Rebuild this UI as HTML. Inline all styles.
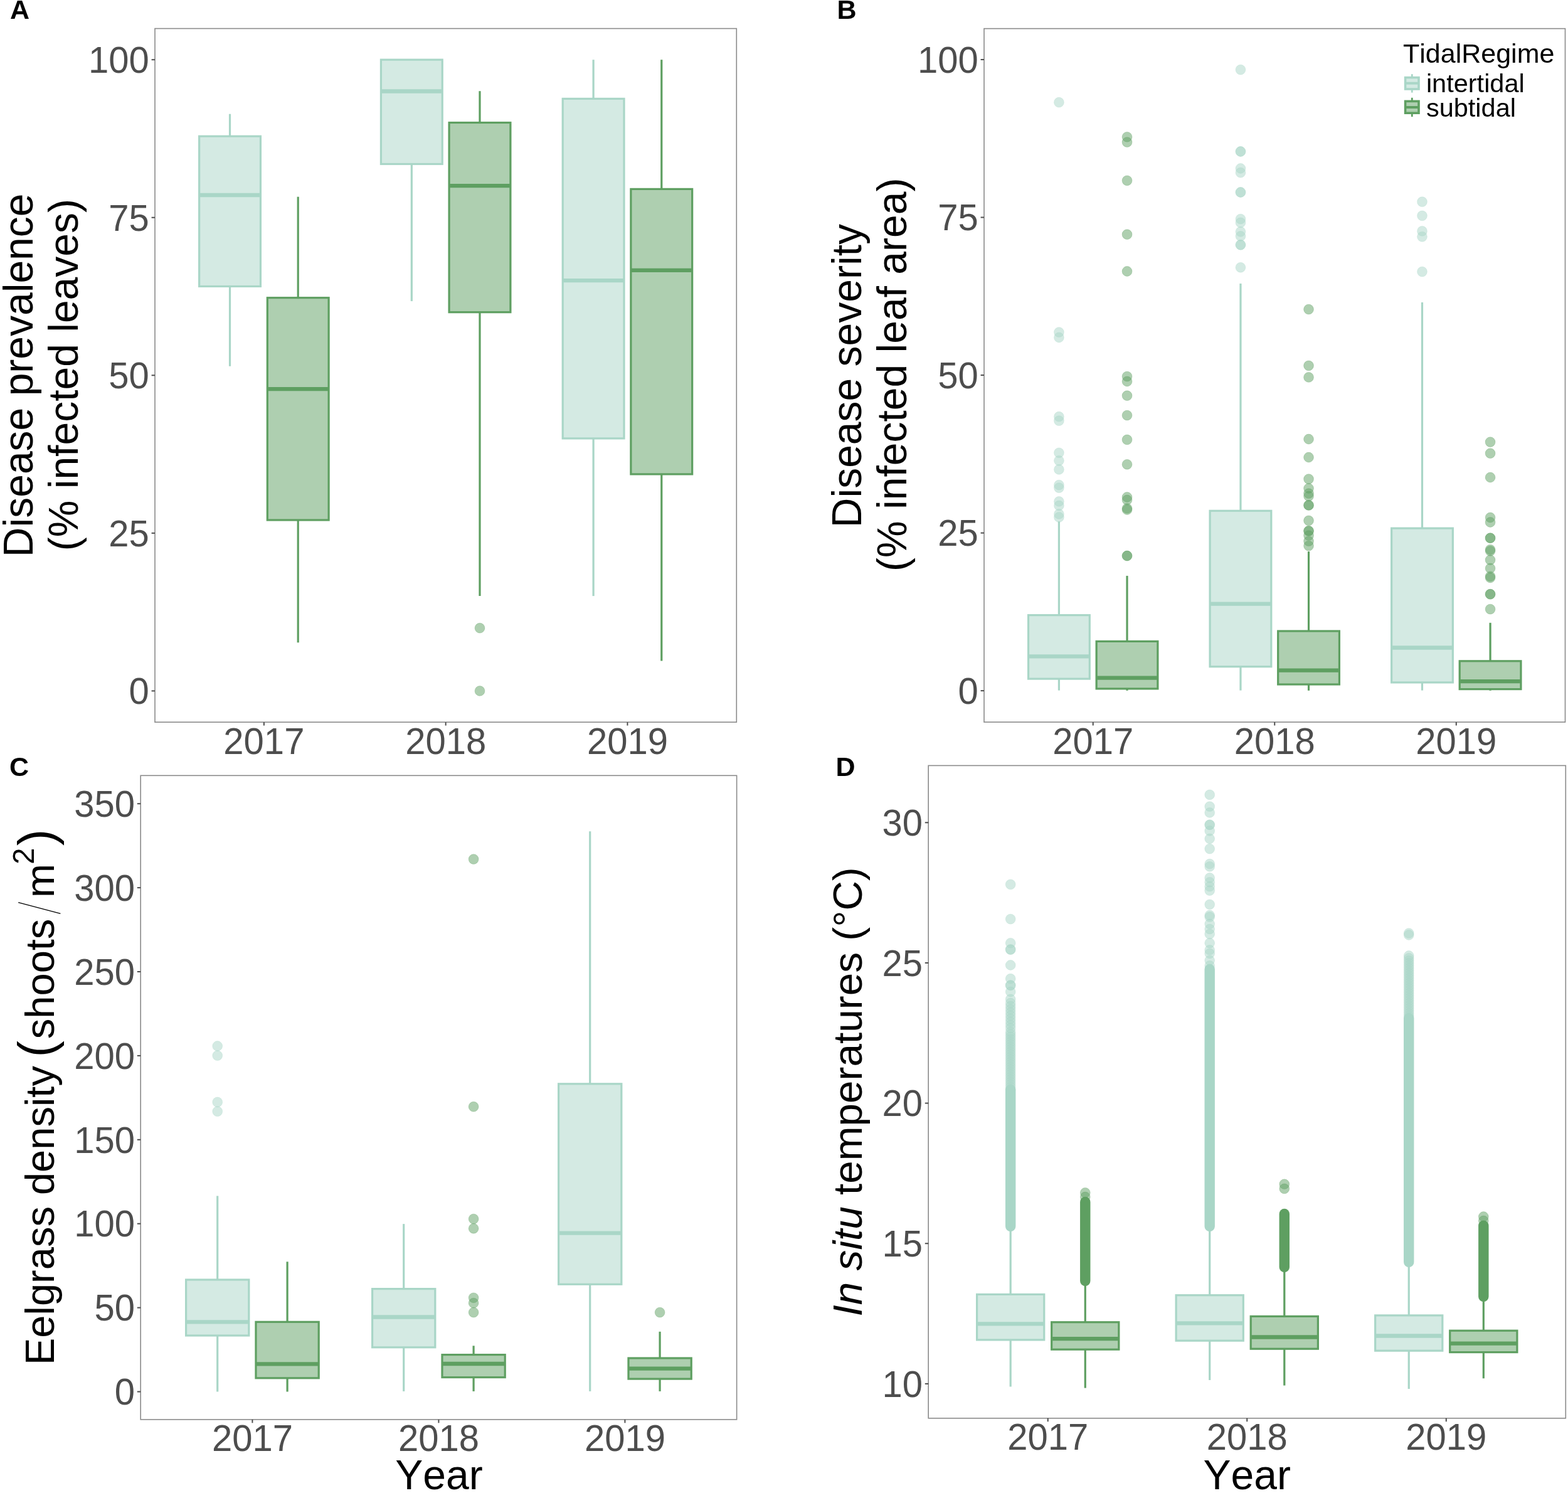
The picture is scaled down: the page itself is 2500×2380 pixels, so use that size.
<!DOCTYPE html>
<html><head><meta charset="utf-8"><title>Figure</title><style>html,body{margin:0;padding:0;background:#fff;}svg{display:block;}text{font-kerning:none;font-variant-ligatures:none;}</style></head><body>
<svg width="2500" height="2380" viewBox="0 0 2500 2380" font-family="&quot;Liberation Sans&quot;, sans-serif">
<rect width="2500" height="2380" fill="#fff"/>
<line x1="366.53" y1="181.7" x2="366.53" y2="217.2" stroke="#a9d6c7" stroke-width="3.2"/>
<line x1="366.53" y1="456.5" x2="366.53" y2="583.8" stroke="#a9d6c7" stroke-width="3.2"/>
<rect x="317.63" y="217.2" width="97.8" height="239.3" fill="#d4eae3" stroke="#a9d6c7" stroke-width="3.2"/>
<line x1="317.63" y1="311" x2="415.44" y2="311" stroke="#a9d6c7" stroke-width="6.3"/>
<line x1="475.2" y1="313.7" x2="475.2" y2="474.7" stroke="#5e9f61" stroke-width="3.2"/>
<line x1="475.2" y1="829" x2="475.2" y2="1024.3" stroke="#5e9f61" stroke-width="3.2"/>
<rect x="426.3" y="474.7" width="97.8" height="354.3" fill="#aecfb0" stroke="#5e9f61" stroke-width="3.2"/>
<line x1="426.3" y1="620.1" x2="524.1" y2="620.1" stroke="#5e9f61" stroke-width="6.3"/>
<line x1="656.32" y1="261.5" x2="656.32" y2="480.1" stroke="#a9d6c7" stroke-width="3.2"/>
<rect x="607.42" y="95.2" width="97.8" height="166.3" fill="#d4eae3" stroke="#a9d6c7" stroke-width="3.2"/>
<line x1="607.42" y1="145.5" x2="705.22" y2="145.5" stroke="#a9d6c7" stroke-width="6.3"/>
<line x1="764.98" y1="145.2" x2="764.98" y2="195.5" stroke="#5e9f61" stroke-width="3.2"/>
<line x1="764.98" y1="497.7" x2="764.98" y2="950.1" stroke="#5e9f61" stroke-width="3.2"/>
<rect x="716.08" y="195.5" width="97.8" height="302.2" fill="#aecfb0" stroke="#5e9f61" stroke-width="3.2"/>
<line x1="716.08" y1="296.2" x2="813.88" y2="296.2" stroke="#5e9f61" stroke-width="6.3"/>
<circle cx="764.98" cy="1001.2" r="7.9" fill="#5e9f61" fill-opacity="0.5" stroke="#5e9f61" stroke-opacity="0.5" stroke-width="0.6"/>
<circle cx="764.98" cy="1101.4" r="7.9" fill="#5e9f61" fill-opacity="0.5" stroke="#5e9f61" stroke-opacity="0.5" stroke-width="0.6"/>
<line x1="946.1" y1="95.2" x2="946.1" y2="157.4" stroke="#a9d6c7" stroke-width="3.2"/>
<line x1="946.1" y1="698.9" x2="946.1" y2="950.1" stroke="#a9d6c7" stroke-width="3.2"/>
<rect x="897.2" y="157.4" width="97.8" height="541.5" fill="#d4eae3" stroke="#a9d6c7" stroke-width="3.2"/>
<line x1="897.2" y1="447.2" x2="995" y2="447.2" stroke="#a9d6c7" stroke-width="6.3"/>
<line x1="1054.77" y1="95.2" x2="1054.77" y2="301.4" stroke="#5e9f61" stroke-width="3.2"/>
<line x1="1054.77" y1="755.9" x2="1054.77" y2="1053.6" stroke="#5e9f61" stroke-width="3.2"/>
<rect x="1005.86" y="301.4" width="97.8" height="454.5" fill="#aecfb0" stroke="#5e9f61" stroke-width="3.2"/>
<line x1="1005.86" y1="430.8" x2="1103.67" y2="430.8" stroke="#5e9f61" stroke-width="6.3"/>
<rect x="247" y="45.5" width="927.3" height="1105.7" fill="none" stroke="#8a8a8a" stroke-width="1.6"/>
<line x1="241.6" y1="1101.4" x2="247" y2="1101.4" stroke="#4d4d4d" stroke-width="2.0"/>
<text transform="translate(237.7,1122.17) scale(1,1.026)" font-size="58" fill="#4d4d4d" text-anchor="end">0</text>
<line x1="241.6" y1="849.85" x2="247" y2="849.85" stroke="#4d4d4d" stroke-width="2.0"/>
<text transform="translate(237.7,870.62) scale(1,1.026)" font-size="58" fill="#4d4d4d" text-anchor="end">25</text>
<line x1="241.6" y1="598.3" x2="247" y2="598.3" stroke="#4d4d4d" stroke-width="2.0"/>
<text transform="translate(237.7,619.07) scale(1,1.026)" font-size="58" fill="#4d4d4d" text-anchor="end">50</text>
<line x1="241.6" y1="346.75" x2="247" y2="346.75" stroke="#4d4d4d" stroke-width="2.0"/>
<text transform="translate(237.7,367.52) scale(1,1.026)" font-size="58" fill="#4d4d4d" text-anchor="end">75</text>
<line x1="241.6" y1="95.2" x2="247" y2="95.2" stroke="#4d4d4d" stroke-width="2.0"/>
<text transform="translate(237.7,115.97) scale(1,1.026)" font-size="58" fill="#4d4d4d" text-anchor="end">100</text>
<line x1="420.87" y1="1151.2" x2="420.87" y2="1156.6" stroke="#4d4d4d" stroke-width="2.0"/>
<text transform="translate(420.87,1201.5) scale(1,1.026)" font-size="58" fill="#4d4d4d" text-anchor="middle">2017</text>
<line x1="710.65" y1="1151.2" x2="710.65" y2="1156.6" stroke="#4d4d4d" stroke-width="2.0"/>
<text transform="translate(710.65,1201.5) scale(1,1.026)" font-size="58" fill="#4d4d4d" text-anchor="middle">2018</text>
<line x1="1000.43" y1="1151.2" x2="1000.43" y2="1156.6" stroke="#4d4d4d" stroke-width="2.0"/>
<text transform="translate(1000.43,1201.5) scale(1,1.026)" font-size="58" fill="#4d4d4d" text-anchor="middle">2019</text>
<line x1="1688.43" y1="831.3" x2="1688.43" y2="980.6" stroke="#a9d6c7" stroke-width="3.2"/>
<line x1="1688.43" y1="1082.1" x2="1688.43" y2="1100.6" stroke="#a9d6c7" stroke-width="3.2"/>
<rect x="1639.57" y="980.6" width="97.72" height="101.5" fill="#d4eae3" stroke="#a9d6c7" stroke-width="3.2"/>
<line x1="1639.57" y1="1046.3" x2="1737.29" y2="1046.3" stroke="#a9d6c7" stroke-width="6.3"/>
<circle cx="1688.43" cy="163.2" r="7.9" fill="#a9d6c7" fill-opacity="0.5" stroke="#a9d6c7" stroke-opacity="0.5" stroke-width="0.6"/>
<circle cx="1688.43" cy="529.6" r="7.9" fill="#a9d6c7" fill-opacity="0.5" stroke="#a9d6c7" stroke-opacity="0.5" stroke-width="0.6"/>
<circle cx="1688.43" cy="538" r="7.9" fill="#a9d6c7" fill-opacity="0.5" stroke="#a9d6c7" stroke-opacity="0.5" stroke-width="0.6"/>
<circle cx="1688.43" cy="664.2" r="7.9" fill="#a9d6c7" fill-opacity="0.5" stroke="#a9d6c7" stroke-opacity="0.5" stroke-width="0.6"/>
<circle cx="1688.43" cy="670.7" r="7.9" fill="#a9d6c7" fill-opacity="0.5" stroke="#a9d6c7" stroke-opacity="0.5" stroke-width="0.6"/>
<circle cx="1688.43" cy="721.8" r="7.9" fill="#a9d6c7" fill-opacity="0.5" stroke="#a9d6c7" stroke-opacity="0.5" stroke-width="0.6"/>
<circle cx="1688.43" cy="734.3" r="7.9" fill="#a9d6c7" fill-opacity="0.5" stroke="#a9d6c7" stroke-opacity="0.5" stroke-width="0.6"/>
<circle cx="1688.43" cy="748.4" r="7.9" fill="#a9d6c7" fill-opacity="0.5" stroke="#a9d6c7" stroke-opacity="0.5" stroke-width="0.6"/>
<circle cx="1688.43" cy="773.1" r="7.9" fill="#a9d6c7" fill-opacity="0.5" stroke="#a9d6c7" stroke-opacity="0.5" stroke-width="0.6"/>
<circle cx="1688.43" cy="777.6" r="7.9" fill="#a9d6c7" fill-opacity="0.5" stroke="#a9d6c7" stroke-opacity="0.5" stroke-width="0.6"/>
<circle cx="1688.43" cy="799.4" r="7.9" fill="#a9d6c7" fill-opacity="0.5" stroke="#a9d6c7" stroke-opacity="0.5" stroke-width="0.6"/>
<circle cx="1688.43" cy="806" r="7.9" fill="#a9d6c7" fill-opacity="0.5" stroke="#a9d6c7" stroke-opacity="0.5" stroke-width="0.6"/>
<circle cx="1688.43" cy="819.4" r="7.9" fill="#a9d6c7" fill-opacity="0.5" stroke="#a9d6c7" stroke-opacity="0.5" stroke-width="0.6"/>
<circle cx="1688.43" cy="824.5" r="7.9" fill="#a9d6c7" fill-opacity="0.5" stroke="#a9d6c7" stroke-opacity="0.5" stroke-width="0.6"/>
<line x1="1797.01" y1="917.9" x2="1797.01" y2="1022.4" stroke="#5e9f61" stroke-width="3.2"/>
<line x1="1797.01" y1="1097.9" x2="1797.01" y2="1100.8" stroke="#5e9f61" stroke-width="3.2"/>
<rect x="1748.15" y="1022.4" width="97.72" height="75.5" fill="#aecfb0" stroke="#5e9f61" stroke-width="3.2"/>
<line x1="1748.15" y1="1080.6" x2="1845.86" y2="1080.6" stroke="#5e9f61" stroke-width="6.3"/>
<circle cx="1797.01" cy="218.3" r="7.9" fill="#5e9f61" fill-opacity="0.5" stroke="#5e9f61" stroke-opacity="0.5" stroke-width="0.6"/>
<circle cx="1797.01" cy="226.6" r="7.9" fill="#5e9f61" fill-opacity="0.5" stroke="#5e9f61" stroke-opacity="0.5" stroke-width="0.6"/>
<circle cx="1797.01" cy="287.8" r="7.9" fill="#5e9f61" fill-opacity="0.5" stroke="#5e9f61" stroke-opacity="0.5" stroke-width="0.6"/>
<circle cx="1797.01" cy="373.7" r="7.9" fill="#5e9f61" fill-opacity="0.5" stroke="#5e9f61" stroke-opacity="0.5" stroke-width="0.6"/>
<circle cx="1797.01" cy="432.5" r="7.9" fill="#5e9f61" fill-opacity="0.5" stroke="#5e9f61" stroke-opacity="0.5" stroke-width="0.6"/>
<circle cx="1797.01" cy="600.1" r="7.9" fill="#5e9f61" fill-opacity="0.5" stroke="#5e9f61" stroke-opacity="0.5" stroke-width="0.6"/>
<circle cx="1797.01" cy="608" r="7.9" fill="#5e9f61" fill-opacity="0.5" stroke="#5e9f61" stroke-opacity="0.5" stroke-width="0.6"/>
<circle cx="1797.01" cy="630.7" r="7.9" fill="#5e9f61" fill-opacity="0.5" stroke="#5e9f61" stroke-opacity="0.5" stroke-width="0.6"/>
<circle cx="1797.01" cy="662.1" r="7.9" fill="#5e9f61" fill-opacity="0.5" stroke="#5e9f61" stroke-opacity="0.5" stroke-width="0.6"/>
<circle cx="1797.01" cy="700.9" r="7.9" fill="#5e9f61" fill-opacity="0.5" stroke="#5e9f61" stroke-opacity="0.5" stroke-width="0.6"/>
<circle cx="1797.01" cy="740.3" r="7.9" fill="#5e9f61" fill-opacity="0.5" stroke="#5e9f61" stroke-opacity="0.5" stroke-width="0.6"/>
<circle cx="1797.01" cy="792.5" r="7.9" fill="#5e9f61" fill-opacity="0.5" stroke="#5e9f61" stroke-opacity="0.5" stroke-width="0.6"/>
<circle cx="1797.01" cy="797" r="7.9" fill="#5e9f61" fill-opacity="0.5" stroke="#5e9f61" stroke-opacity="0.5" stroke-width="0.6"/>
<circle cx="1797.01" cy="810.4" r="7.9" fill="#5e9f61" fill-opacity="0.5" stroke="#5e9f61" stroke-opacity="0.5" stroke-width="0.6"/>
<circle cx="1797.01" cy="812.5" r="7.9" fill="#5e9f61" fill-opacity="0.5" stroke="#5e9f61" stroke-opacity="0.5" stroke-width="0.6"/>
<circle cx="1797.01" cy="886" r="7.9" fill="#5e9f61" fill-opacity="0.5" stroke="#5e9f61" stroke-opacity="0.5" stroke-width="0.6"/>
<circle cx="1797.01" cy="886" r="7.9" fill="#5e9f61" fill-opacity="0.5" stroke="#5e9f61" stroke-opacity="0.5" stroke-width="0.6"/>
<line x1="1977.96" y1="451.9" x2="1977.96" y2="814.3" stroke="#a9d6c7" stroke-width="3.2"/>
<line x1="1977.96" y1="1062.7" x2="1977.96" y2="1100.6" stroke="#a9d6c7" stroke-width="3.2"/>
<rect x="1929.1" y="814.3" width="97.72" height="248.4" fill="#d4eae3" stroke="#a9d6c7" stroke-width="3.2"/>
<line x1="1929.1" y1="962.7" x2="2026.82" y2="962.7" stroke="#a9d6c7" stroke-width="6.3"/>
<circle cx="1977.96" cy="111.1" r="7.9" fill="#a9d6c7" fill-opacity="0.5" stroke="#a9d6c7" stroke-opacity="0.5" stroke-width="0.6"/>
<circle cx="1977.96" cy="241.5" r="7.9" fill="#a9d6c7" fill-opacity="0.5" stroke="#a9d6c7" stroke-opacity="0.5" stroke-width="0.6"/>
<circle cx="1977.96" cy="241.5" r="7.9" fill="#a9d6c7" fill-opacity="0.5" stroke="#a9d6c7" stroke-opacity="0.5" stroke-width="0.6"/>
<circle cx="1977.96" cy="268.5" r="7.9" fill="#a9d6c7" fill-opacity="0.5" stroke="#a9d6c7" stroke-opacity="0.5" stroke-width="0.6"/>
<circle cx="1977.96" cy="275.2" r="7.9" fill="#a9d6c7" fill-opacity="0.5" stroke="#a9d6c7" stroke-opacity="0.5" stroke-width="0.6"/>
<circle cx="1977.96" cy="306.5" r="7.9" fill="#a9d6c7" fill-opacity="0.5" stroke="#a9d6c7" stroke-opacity="0.5" stroke-width="0.6"/>
<circle cx="1977.96" cy="306.5" r="7.9" fill="#a9d6c7" fill-opacity="0.5" stroke="#a9d6c7" stroke-opacity="0.5" stroke-width="0.6"/>
<circle cx="1977.96" cy="349.1" r="7.9" fill="#a9d6c7" fill-opacity="0.5" stroke="#a9d6c7" stroke-opacity="0.5" stroke-width="0.6"/>
<circle cx="1977.96" cy="354.9" r="7.9" fill="#a9d6c7" fill-opacity="0.5" stroke="#a9d6c7" stroke-opacity="0.5" stroke-width="0.6"/>
<circle cx="1977.96" cy="369.3" r="7.9" fill="#a9d6c7" fill-opacity="0.5" stroke="#a9d6c7" stroke-opacity="0.5" stroke-width="0.6"/>
<circle cx="1977.96" cy="376.5" r="7.9" fill="#a9d6c7" fill-opacity="0.5" stroke="#a9d6c7" stroke-opacity="0.5" stroke-width="0.6"/>
<circle cx="1977.96" cy="390.3" r="7.9" fill="#a9d6c7" fill-opacity="0.5" stroke="#a9d6c7" stroke-opacity="0.5" stroke-width="0.6"/>
<circle cx="1977.96" cy="390.3" r="7.9" fill="#a9d6c7" fill-opacity="0.5" stroke="#a9d6c7" stroke-opacity="0.5" stroke-width="0.6"/>
<circle cx="1977.96" cy="426.3" r="7.9" fill="#a9d6c7" fill-opacity="0.5" stroke="#a9d6c7" stroke-opacity="0.5" stroke-width="0.6"/>
<line x1="2086.54" y1="879.1" x2="2086.54" y2="1006" stroke="#5e9f61" stroke-width="3.2"/>
<line x1="2086.54" y1="1091" x2="2086.54" y2="1100.8" stroke="#5e9f61" stroke-width="3.2"/>
<rect x="2037.68" y="1006" width="97.72" height="85" fill="#aecfb0" stroke="#5e9f61" stroke-width="3.2"/>
<line x1="2037.68" y1="1068.7" x2="2135.4" y2="1068.7" stroke="#5e9f61" stroke-width="6.3"/>
<circle cx="2086.54" cy="493.1" r="7.9" fill="#5e9f61" fill-opacity="0.5" stroke="#5e9f61" stroke-opacity="0.5" stroke-width="0.6"/>
<circle cx="2086.54" cy="582.9" r="7.9" fill="#5e9f61" fill-opacity="0.5" stroke="#5e9f61" stroke-opacity="0.5" stroke-width="0.6"/>
<circle cx="2086.54" cy="601.4" r="7.9" fill="#5e9f61" fill-opacity="0.5" stroke="#5e9f61" stroke-opacity="0.5" stroke-width="0.6"/>
<circle cx="2086.54" cy="700" r="7.9" fill="#5e9f61" fill-opacity="0.5" stroke="#5e9f61" stroke-opacity="0.5" stroke-width="0.6"/>
<circle cx="2086.54" cy="729" r="7.9" fill="#5e9f61" fill-opacity="0.5" stroke="#5e9f61" stroke-opacity="0.5" stroke-width="0.6"/>
<circle cx="2086.54" cy="763.6" r="7.9" fill="#5e9f61" fill-opacity="0.5" stroke="#5e9f61" stroke-opacity="0.5" stroke-width="0.6"/>
<circle cx="2086.54" cy="778.5" r="7.9" fill="#5e9f61" fill-opacity="0.5" stroke="#5e9f61" stroke-opacity="0.5" stroke-width="0.6"/>
<circle cx="2086.54" cy="786.6" r="7.9" fill="#5e9f61" fill-opacity="0.5" stroke="#5e9f61" stroke-opacity="0.5" stroke-width="0.6"/>
<circle cx="2086.54" cy="791" r="7.9" fill="#5e9f61" fill-opacity="0.5" stroke="#5e9f61" stroke-opacity="0.5" stroke-width="0.6"/>
<circle cx="2086.54" cy="805.4" r="7.9" fill="#5e9f61" fill-opacity="0.5" stroke="#5e9f61" stroke-opacity="0.5" stroke-width="0.6"/>
<circle cx="2086.54" cy="805.4" r="7.9" fill="#5e9f61" fill-opacity="0.5" stroke="#5e9f61" stroke-opacity="0.5" stroke-width="0.6"/>
<circle cx="2086.54" cy="829.9" r="7.9" fill="#5e9f61" fill-opacity="0.5" stroke="#5e9f61" stroke-opacity="0.5" stroke-width="0.6"/>
<circle cx="2086.54" cy="846.3" r="7.9" fill="#5e9f61" fill-opacity="0.5" stroke="#5e9f61" stroke-opacity="0.5" stroke-width="0.6"/>
<circle cx="2086.54" cy="846.3" r="7.9" fill="#5e9f61" fill-opacity="0.5" stroke="#5e9f61" stroke-opacity="0.5" stroke-width="0.6"/>
<circle cx="2086.54" cy="853.7" r="7.9" fill="#5e9f61" fill-opacity="0.5" stroke="#5e9f61" stroke-opacity="0.5" stroke-width="0.6"/>
<circle cx="2086.54" cy="862.7" r="7.9" fill="#5e9f61" fill-opacity="0.5" stroke="#5e9f61" stroke-opacity="0.5" stroke-width="0.6"/>
<circle cx="2086.54" cy="870.1" r="7.9" fill="#5e9f61" fill-opacity="0.5" stroke="#5e9f61" stroke-opacity="0.5" stroke-width="0.6"/>
<line x1="2267.49" y1="482.1" x2="2267.49" y2="842.1" stroke="#a9d6c7" stroke-width="3.2"/>
<line x1="2267.49" y1="1087.9" x2="2267.49" y2="1100.6" stroke="#a9d6c7" stroke-width="3.2"/>
<rect x="2218.64" y="842.1" width="97.72" height="245.8" fill="#d4eae3" stroke="#a9d6c7" stroke-width="3.2"/>
<line x1="2218.64" y1="1032.5" x2="2316.35" y2="1032.5" stroke="#a9d6c7" stroke-width="6.3"/>
<circle cx="2267.49" cy="321.7" r="7.9" fill="#a9d6c7" fill-opacity="0.5" stroke="#a9d6c7" stroke-opacity="0.5" stroke-width="0.6"/>
<circle cx="2267.49" cy="343.9" r="7.9" fill="#a9d6c7" fill-opacity="0.5" stroke="#a9d6c7" stroke-opacity="0.5" stroke-width="0.6"/>
<circle cx="2267.49" cy="368.4" r="7.9" fill="#a9d6c7" fill-opacity="0.5" stroke="#a9d6c7" stroke-opacity="0.5" stroke-width="0.6"/>
<circle cx="2267.49" cy="377.3" r="7.9" fill="#a9d6c7" fill-opacity="0.5" stroke="#a9d6c7" stroke-opacity="0.5" stroke-width="0.6"/>
<circle cx="2267.49" cy="433.1" r="7.9" fill="#a9d6c7" fill-opacity="0.5" stroke="#a9d6c7" stroke-opacity="0.5" stroke-width="0.6"/>
<line x1="2376.07" y1="992.8" x2="2376.07" y2="1053.8" stroke="#5e9f61" stroke-width="3.2"/>
<line x1="2376.07" y1="1098.6" x2="2376.07" y2="1100.8" stroke="#5e9f61" stroke-width="3.2"/>
<rect x="2327.21" y="1053.8" width="97.72" height="44.8" fill="#aecfb0" stroke="#5e9f61" stroke-width="3.2"/>
<line x1="2327.21" y1="1086.2" x2="2424.93" y2="1086.2" stroke="#5e9f61" stroke-width="6.3"/>
<circle cx="2376.07" cy="704.6" r="7.9" fill="#5e9f61" fill-opacity="0.5" stroke="#5e9f61" stroke-opacity="0.5" stroke-width="0.6"/>
<circle cx="2376.07" cy="722.7" r="7.9" fill="#5e9f61" fill-opacity="0.5" stroke="#5e9f61" stroke-opacity="0.5" stroke-width="0.6"/>
<circle cx="2376.07" cy="761" r="7.9" fill="#5e9f61" fill-opacity="0.5" stroke="#5e9f61" stroke-opacity="0.5" stroke-width="0.6"/>
<circle cx="2376.07" cy="825" r="7.9" fill="#5e9f61" fill-opacity="0.5" stroke="#5e9f61" stroke-opacity="0.5" stroke-width="0.6"/>
<circle cx="2376.07" cy="832.5" r="7.9" fill="#5e9f61" fill-opacity="0.5" stroke="#5e9f61" stroke-opacity="0.5" stroke-width="0.6"/>
<circle cx="2376.07" cy="857.7" r="7.9" fill="#5e9f61" fill-opacity="0.5" stroke="#5e9f61" stroke-opacity="0.5" stroke-width="0.6"/>
<circle cx="2376.07" cy="857.7" r="7.9" fill="#5e9f61" fill-opacity="0.5" stroke="#5e9f61" stroke-opacity="0.5" stroke-width="0.6"/>
<circle cx="2376.07" cy="876.2" r="7.9" fill="#5e9f61" fill-opacity="0.5" stroke="#5e9f61" stroke-opacity="0.5" stroke-width="0.6"/>
<circle cx="2376.07" cy="878.3" r="7.9" fill="#5e9f61" fill-opacity="0.5" stroke="#5e9f61" stroke-opacity="0.5" stroke-width="0.6"/>
<circle cx="2376.07" cy="892.6" r="7.9" fill="#5e9f61" fill-opacity="0.5" stroke="#5e9f61" stroke-opacity="0.5" stroke-width="0.6"/>
<circle cx="2376.07" cy="906" r="7.9" fill="#5e9f61" fill-opacity="0.5" stroke="#5e9f61" stroke-opacity="0.5" stroke-width="0.6"/>
<circle cx="2376.07" cy="918.8" r="7.9" fill="#5e9f61" fill-opacity="0.5" stroke="#5e9f61" stroke-opacity="0.5" stroke-width="0.6"/>
<circle cx="2376.07" cy="921" r="7.9" fill="#5e9f61" fill-opacity="0.5" stroke="#5e9f61" stroke-opacity="0.5" stroke-width="0.6"/>
<circle cx="2376.07" cy="947.2" r="7.9" fill="#5e9f61" fill-opacity="0.5" stroke="#5e9f61" stroke-opacity="0.5" stroke-width="0.6"/>
<circle cx="2376.07" cy="947.2" r="7.9" fill="#5e9f61" fill-opacity="0.5" stroke="#5e9f61" stroke-opacity="0.5" stroke-width="0.6"/>
<circle cx="2376.07" cy="971.1" r="7.9" fill="#5e9f61" fill-opacity="0.5" stroke="#5e9f61" stroke-opacity="0.5" stroke-width="0.6"/>
<rect x="1569" y="45.6" width="926.5" height="1105.5" fill="none" stroke="#8a8a8a" stroke-width="1.6"/>
<line x1="1563.6" y1="1101.1" x2="1569" y2="1101.1" stroke="#4d4d4d" stroke-width="2.0"/>
<text transform="translate(1559.7,1121.87) scale(1,1.026)" font-size="58" fill="#4d4d4d" text-anchor="end">0</text>
<line x1="1563.6" y1="849.57" x2="1569" y2="849.57" stroke="#4d4d4d" stroke-width="2.0"/>
<text transform="translate(1559.7,870.35) scale(1,1.026)" font-size="58" fill="#4d4d4d" text-anchor="end">25</text>
<line x1="1563.6" y1="598.05" x2="1569" y2="598.05" stroke="#4d4d4d" stroke-width="2.0"/>
<text transform="translate(1559.7,618.82) scale(1,1.026)" font-size="58" fill="#4d4d4d" text-anchor="end">50</text>
<line x1="1563.6" y1="346.52" x2="1569" y2="346.52" stroke="#4d4d4d" stroke-width="2.0"/>
<text transform="translate(1559.7,367.3) scale(1,1.026)" font-size="58" fill="#4d4d4d" text-anchor="end">75</text>
<line x1="1563.6" y1="95" x2="1569" y2="95" stroke="#4d4d4d" stroke-width="2.0"/>
<text transform="translate(1559.7,115.77) scale(1,1.026)" font-size="58" fill="#4d4d4d" text-anchor="end">100</text>
<line x1="1742.72" y1="1151.1" x2="1742.72" y2="1156.5" stroke="#4d4d4d" stroke-width="2.0"/>
<text transform="translate(1742.72,1201.5) scale(1,1.026)" font-size="58" fill="#4d4d4d" text-anchor="middle">2017</text>
<line x1="2032.25" y1="1151.1" x2="2032.25" y2="1156.5" stroke="#4d4d4d" stroke-width="2.0"/>
<text transform="translate(2032.25,1201.5) scale(1,1.026)" font-size="58" fill="#4d4d4d" text-anchor="middle">2018</text>
<line x1="2321.78" y1="1151.1" x2="2321.78" y2="1156.5" stroke="#4d4d4d" stroke-width="2.0"/>
<text transform="translate(2321.78,1201.5) scale(1,1.026)" font-size="58" fill="#4d4d4d" text-anchor="middle">2019</text>
<line x1="346.71" y1="1906.4" x2="346.71" y2="2040" stroke="#a9d6c7" stroke-width="3.2"/>
<line x1="346.71" y1="2129" x2="346.71" y2="2218.5" stroke="#a9d6c7" stroke-width="3.2"/>
<rect x="296.59" y="2040" width="100.24" height="89" fill="#d4eae3" stroke="#a9d6c7" stroke-width="3.2"/>
<line x1="296.59" y1="2107.3" x2="396.83" y2="2107.3" stroke="#a9d6c7" stroke-width="6.3"/>
<circle cx="346.71" cy="1667.5" r="7.9" fill="#a9d6c7" fill-opacity="0.5" stroke="#a9d6c7" stroke-opacity="0.5" stroke-width="0.6"/>
<circle cx="346.71" cy="1682.7" r="7.9" fill="#a9d6c7" fill-opacity="0.5" stroke="#a9d6c7" stroke-opacity="0.5" stroke-width="0.6"/>
<circle cx="346.71" cy="1756.9" r="7.9" fill="#a9d6c7" fill-opacity="0.5" stroke="#a9d6c7" stroke-opacity="0.5" stroke-width="0.6"/>
<circle cx="346.71" cy="1771.7" r="7.9" fill="#a9d6c7" fill-opacity="0.5" stroke="#a9d6c7" stroke-opacity="0.5" stroke-width="0.6"/>
<line x1="458.09" y1="2011.3" x2="458.09" y2="2107.3" stroke="#5e9f61" stroke-width="3.2"/>
<line x1="458.09" y1="2196.8" x2="458.09" y2="2218.5" stroke="#5e9f61" stroke-width="3.2"/>
<rect x="407.97" y="2107.3" width="100.24" height="89.5" fill="#aecfb0" stroke="#5e9f61" stroke-width="3.2"/>
<line x1="407.97" y1="2174.3" x2="508.21" y2="2174.3" stroke="#5e9f61" stroke-width="6.3"/>
<line x1="643.71" y1="1951.1" x2="643.71" y2="2054.6" stroke="#a9d6c7" stroke-width="3.2"/>
<line x1="643.71" y1="2147.8" x2="643.71" y2="2217.9" stroke="#a9d6c7" stroke-width="3.2"/>
<rect x="593.59" y="2054.6" width="100.24" height="93.2" fill="#d4eae3" stroke="#a9d6c7" stroke-width="3.2"/>
<line x1="593.59" y1="2099.5" x2="693.83" y2="2099.5" stroke="#a9d6c7" stroke-width="6.3"/>
<line x1="755.09" y1="2145.3" x2="755.09" y2="2159.6" stroke="#5e9f61" stroke-width="3.2"/>
<line x1="755.09" y1="2195.6" x2="755.09" y2="2217.9" stroke="#5e9f61" stroke-width="3.2"/>
<rect x="704.97" y="2159.6" width="100.24" height="36" fill="#aecfb0" stroke="#5e9f61" stroke-width="3.2"/>
<line x1="704.97" y1="2174" x2="805.21" y2="2174" stroke="#5e9f61" stroke-width="6.3"/>
<circle cx="755.09" cy="1369.6" r="7.9" fill="#5e9f61" fill-opacity="0.5" stroke="#5e9f61" stroke-opacity="0.5" stroke-width="0.6"/>
<circle cx="755.09" cy="1764.2" r="7.9" fill="#5e9f61" fill-opacity="0.5" stroke="#5e9f61" stroke-opacity="0.5" stroke-width="0.6"/>
<circle cx="755.09" cy="1943.1" r="7.9" fill="#5e9f61" fill-opacity="0.5" stroke="#5e9f61" stroke-opacity="0.5" stroke-width="0.6"/>
<circle cx="755.09" cy="1958.3" r="7.9" fill="#5e9f61" fill-opacity="0.5" stroke="#5e9f61" stroke-opacity="0.5" stroke-width="0.6"/>
<circle cx="755.09" cy="2068.8" r="7.9" fill="#5e9f61" fill-opacity="0.5" stroke="#5e9f61" stroke-opacity="0.5" stroke-width="0.6"/>
<circle cx="755.09" cy="2077.2" r="7.9" fill="#5e9f61" fill-opacity="0.5" stroke="#5e9f61" stroke-opacity="0.5" stroke-width="0.6"/>
<circle cx="755.09" cy="2092.1" r="7.9" fill="#5e9f61" fill-opacity="0.5" stroke="#5e9f61" stroke-opacity="0.5" stroke-width="0.6"/>
<line x1="940.71" y1="1325.3" x2="940.71" y2="1727.8" stroke="#a9d6c7" stroke-width="3.2"/>
<line x1="940.71" y1="2047.3" x2="940.71" y2="2217.9" stroke="#a9d6c7" stroke-width="3.2"/>
<rect x="890.59" y="1727.8" width="100.24" height="319.5" fill="#d4eae3" stroke="#a9d6c7" stroke-width="3.2"/>
<line x1="890.59" y1="1965.6" x2="990.83" y2="1965.6" stroke="#a9d6c7" stroke-width="6.3"/>
<line x1="1052.09" y1="2122.8" x2="1052.09" y2="2165" stroke="#5e9f61" stroke-width="3.2"/>
<line x1="1052.09" y1="2198.1" x2="1052.09" y2="2217.9" stroke="#5e9f61" stroke-width="3.2"/>
<rect x="1001.97" y="2165" width="100.24" height="33.1" fill="#aecfb0" stroke="#5e9f61" stroke-width="3.2"/>
<line x1="1001.97" y1="2181.6" x2="1102.21" y2="2181.6" stroke="#5e9f61" stroke-width="6.3"/>
<circle cx="1052.09" cy="2092.1" r="7.9" fill="#5e9f61" fill-opacity="0.5" stroke="#5e9f61" stroke-opacity="0.5" stroke-width="0.6"/>
<rect x="224.2" y="1236.3" width="950.4" height="1026.6" fill="none" stroke="#8a8a8a" stroke-width="1.6"/>
<line x1="218.8" y1="2218.5" x2="224.2" y2="2218.5" stroke="#4d4d4d" stroke-width="2.0"/>
<text transform="translate(214.9,2239.27) scale(1,1.026)" font-size="58" fill="#4d4d4d" text-anchor="end">0</text>
<line x1="218.8" y1="2084.6" x2="224.2" y2="2084.6" stroke="#4d4d4d" stroke-width="2.0"/>
<text transform="translate(214.9,2105.37) scale(1,1.026)" font-size="58" fill="#4d4d4d" text-anchor="end">50</text>
<line x1="218.8" y1="1950.7" x2="224.2" y2="1950.7" stroke="#4d4d4d" stroke-width="2.0"/>
<text transform="translate(214.9,1971.47) scale(1,1.026)" font-size="58" fill="#4d4d4d" text-anchor="end">100</text>
<line x1="218.8" y1="1816.8" x2="224.2" y2="1816.8" stroke="#4d4d4d" stroke-width="2.0"/>
<text transform="translate(214.9,1837.57) scale(1,1.026)" font-size="58" fill="#4d4d4d" text-anchor="end">150</text>
<line x1="218.8" y1="1682.9" x2="224.2" y2="1682.9" stroke="#4d4d4d" stroke-width="2.0"/>
<text transform="translate(214.9,1703.67) scale(1,1.026)" font-size="58" fill="#4d4d4d" text-anchor="end">200</text>
<line x1="218.8" y1="1549" x2="224.2" y2="1549" stroke="#4d4d4d" stroke-width="2.0"/>
<text transform="translate(214.9,1569.77) scale(1,1.026)" font-size="58" fill="#4d4d4d" text-anchor="end">250</text>
<line x1="218.8" y1="1415.1" x2="224.2" y2="1415.1" stroke="#4d4d4d" stroke-width="2.0"/>
<text transform="translate(214.9,1435.87) scale(1,1.026)" font-size="58" fill="#4d4d4d" text-anchor="end">300</text>
<line x1="218.8" y1="1281.2" x2="224.2" y2="1281.2" stroke="#4d4d4d" stroke-width="2.0"/>
<text transform="translate(214.9,1301.97) scale(1,1.026)" font-size="58" fill="#4d4d4d" text-anchor="end">350</text>
<line x1="402.4" y1="2262.9" x2="402.4" y2="2268.3" stroke="#4d4d4d" stroke-width="2.0"/>
<text transform="translate(402.4,2312.7) scale(1,1.026)" font-size="58" fill="#4d4d4d" text-anchor="middle">2017</text>
<line x1="699.4" y1="2262.9" x2="699.4" y2="2268.3" stroke="#4d4d4d" stroke-width="2.0"/>
<text transform="translate(699.4,2312.7) scale(1,1.026)" font-size="58" fill="#4d4d4d" text-anchor="middle">2018</text>
<line x1="996.4" y1="2262.9" x2="996.4" y2="2268.3" stroke="#4d4d4d" stroke-width="2.0"/>
<text transform="translate(996.4,2312.7) scale(1,1.026)" font-size="58" fill="#4d4d4d" text-anchor="middle">2019</text>
<line x1="1611.18" y1="1955" x2="1611.18" y2="2063.4" stroke="#a9d6c7" stroke-width="3.2"/>
<line x1="1611.18" y1="2135.9" x2="1611.18" y2="2210.5" stroke="#a9d6c7" stroke-width="3.2"/>
<rect x="1557.6" y="2063.4" width="107.17" height="72.5" fill="#d4eae3" stroke="#a9d6c7" stroke-width="3.2"/>
<line x1="1557.6" y1="2110.3" x2="1664.77" y2="2110.3" stroke="#a9d6c7" stroke-width="6.3"/>
<circle cx="1611.18" cy="1409.9" r="7.9" fill="#a9d6c7" fill-opacity="0.5" stroke="#a9d6c7" stroke-opacity="0.5" stroke-width="0.6"/>
<circle cx="1611.18" cy="1465.1" r="7.9" fill="#a9d6c7" fill-opacity="0.5" stroke="#a9d6c7" stroke-opacity="0.5" stroke-width="0.6"/>
<circle cx="1611.18" cy="1503.3" r="7.9" fill="#a9d6c7" fill-opacity="0.5" stroke="#a9d6c7" stroke-opacity="0.5" stroke-width="0.6"/>
<circle cx="1611.18" cy="1513.6" r="7.9" fill="#a9d6c7" fill-opacity="0.5" stroke="#a9d6c7" stroke-opacity="0.5" stroke-width="0.6"/>
<circle cx="1611.18" cy="1513.6" r="7.9" fill="#a9d6c7" fill-opacity="0.5" stroke="#a9d6c7" stroke-opacity="0.5" stroke-width="0.6"/>
<circle cx="1611.18" cy="1538.5" r="7.9" fill="#a9d6c7" fill-opacity="0.5" stroke="#a9d6c7" stroke-opacity="0.5" stroke-width="0.6"/>
<circle cx="1611.18" cy="1560.2" r="7.9" fill="#a9d6c7" fill-opacity="0.5" stroke="#a9d6c7" stroke-opacity="0.5" stroke-width="0.6"/>
<circle cx="1611.18" cy="1570.7" r="7.9" fill="#a9d6c7" fill-opacity="0.5" stroke="#a9d6c7" stroke-opacity="0.5" stroke-width="0.6"/>
<circle cx="1611.18" cy="1570.7" r="7.9" fill="#a9d6c7" fill-opacity="0.5" stroke="#a9d6c7" stroke-opacity="0.5" stroke-width="0.6"/>
<circle cx="1611.18" cy="1581" r="7.9" fill="#a9d6c7" fill-opacity="0.5" stroke="#a9d6c7" stroke-opacity="0.5" stroke-width="0.6"/>
<circle cx="1611.18" cy="1592.9" r="7.9" fill="#a9d6c7" fill-opacity="0.5" stroke="#a9d6c7" stroke-opacity="0.5" stroke-width="0.6"/>
<circle cx="1611.18" cy="1599" r="7.9" fill="#a9d6c7" fill-opacity="0.5" stroke="#a9d6c7" stroke-opacity="0.5" stroke-width="0.6"/>
<circle cx="1611.18" cy="1604" r="7.9" fill="#a9d6c7" fill-opacity="0.5" stroke="#a9d6c7" stroke-opacity="0.5" stroke-width="0.6"/>
<circle cx="1611.18" cy="1609" r="7.9" fill="#a9d6c7" fill-opacity="0.5" stroke="#a9d6c7" stroke-opacity="0.5" stroke-width="0.6"/>
<circle cx="1611.18" cy="1614" r="7.9" fill="#a9d6c7" fill-opacity="0.5" stroke="#a9d6c7" stroke-opacity="0.5" stroke-width="0.6"/>
<circle cx="1611.18" cy="1619" r="7.9" fill="#a9d6c7" fill-opacity="0.5" stroke="#a9d6c7" stroke-opacity="0.5" stroke-width="0.6"/>
<circle cx="1611.18" cy="1624" r="7.9" fill="#a9d6c7" fill-opacity="0.5" stroke="#a9d6c7" stroke-opacity="0.5" stroke-width="0.6"/>
<circle cx="1611.18" cy="1629" r="7.9" fill="#a9d6c7" fill-opacity="0.5" stroke="#a9d6c7" stroke-opacity="0.5" stroke-width="0.6"/>
<circle cx="1611.18" cy="1634" r="7.9" fill="#a9d6c7" fill-opacity="0.5" stroke="#a9d6c7" stroke-opacity="0.5" stroke-width="0.6"/>
<circle cx="1611.18" cy="1639" r="7.9" fill="#a9d6c7" fill-opacity="0.5" stroke="#a9d6c7" stroke-opacity="0.5" stroke-width="0.6"/>
<circle cx="1611.18" cy="1645" r="7.9" fill="#a9d6c7" fill-opacity="0.5" stroke="#a9d6c7" stroke-opacity="0.5" stroke-width="0.6"/>
<circle cx="1611.18" cy="1649" r="7.9" fill="#a9d6c7" fill-opacity="0.5" stroke="#a9d6c7" stroke-opacity="0.5" stroke-width="0.6"/>
<circle cx="1611.18" cy="1653" r="7.9" fill="#a9d6c7" fill-opacity="0.5" stroke="#a9d6c7" stroke-opacity="0.5" stroke-width="0.6"/>
<circle cx="1611.18" cy="1657" r="7.9" fill="#a9d6c7" fill-opacity="0.5" stroke="#a9d6c7" stroke-opacity="0.5" stroke-width="0.6"/>
<circle cx="1611.18" cy="1661" r="7.9" fill="#a9d6c7" fill-opacity="0.5" stroke="#a9d6c7" stroke-opacity="0.5" stroke-width="0.6"/>
<circle cx="1611.18" cy="1665" r="7.9" fill="#a9d6c7" fill-opacity="0.5" stroke="#a9d6c7" stroke-opacity="0.5" stroke-width="0.6"/>
<circle cx="1611.18" cy="1669" r="7.9" fill="#a9d6c7" fill-opacity="0.5" stroke="#a9d6c7" stroke-opacity="0.5" stroke-width="0.6"/>
<circle cx="1611.18" cy="1673" r="7.9" fill="#a9d6c7" fill-opacity="0.5" stroke="#a9d6c7" stroke-opacity="0.5" stroke-width="0.6"/>
<circle cx="1611.18" cy="1677" r="7.9" fill="#a9d6c7" fill-opacity="0.5" stroke="#a9d6c7" stroke-opacity="0.5" stroke-width="0.6"/>
<circle cx="1611.18" cy="1681" r="7.9" fill="#a9d6c7" fill-opacity="0.5" stroke="#a9d6c7" stroke-opacity="0.5" stroke-width="0.6"/>
<circle cx="1611.18" cy="1685" r="7.9" fill="#a9d6c7" fill-opacity="0.5" stroke="#a9d6c7" stroke-opacity="0.5" stroke-width="0.6"/>
<circle cx="1611.18" cy="1689" r="7.9" fill="#a9d6c7" fill-opacity="0.5" stroke="#a9d6c7" stroke-opacity="0.5" stroke-width="0.6"/>
<circle cx="1611.18" cy="1693" r="7.9" fill="#a9d6c7" fill-opacity="0.5" stroke="#a9d6c7" stroke-opacity="0.5" stroke-width="0.6"/>
<circle cx="1611.18" cy="1697" r="7.9" fill="#a9d6c7" fill-opacity="0.5" stroke="#a9d6c7" stroke-opacity="0.5" stroke-width="0.6"/>
<circle cx="1611.18" cy="1701" r="7.9" fill="#a9d6c7" fill-opacity="0.5" stroke="#a9d6c7" stroke-opacity="0.5" stroke-width="0.6"/>
<circle cx="1611.18" cy="1705" r="7.9" fill="#a9d6c7" fill-opacity="0.5" stroke="#a9d6c7" stroke-opacity="0.5" stroke-width="0.6"/>
<circle cx="1611.18" cy="1709" r="7.9" fill="#a9d6c7" fill-opacity="0.5" stroke="#a9d6c7" stroke-opacity="0.5" stroke-width="0.6"/>
<circle cx="1611.18" cy="1713" r="7.9" fill="#a9d6c7" fill-opacity="0.5" stroke="#a9d6c7" stroke-opacity="0.5" stroke-width="0.6"/>
<circle cx="1611.18" cy="1717" r="7.9" fill="#a9d6c7" fill-opacity="0.5" stroke="#a9d6c7" stroke-opacity="0.5" stroke-width="0.6"/>
<circle cx="1611.18" cy="1721" r="7.9" fill="#a9d6c7" fill-opacity="0.5" stroke="#a9d6c7" stroke-opacity="0.5" stroke-width="0.6"/>
<circle cx="1611.18" cy="1725" r="7.9" fill="#a9d6c7" fill-opacity="0.5" stroke="#a9d6c7" stroke-opacity="0.5" stroke-width="0.6"/>
<circle cx="1611.18" cy="1729" r="7.9" fill="#a9d6c7" fill-opacity="0.5" stroke="#a9d6c7" stroke-opacity="0.5" stroke-width="0.6"/>
<circle cx="1611.18" cy="1733" r="7.9" fill="#a9d6c7" fill-opacity="0.5" stroke="#a9d6c7" stroke-opacity="0.5" stroke-width="0.6"/>
<circle cx="1611.18" cy="1737" r="7.9" fill="#a9d6c7" fill-opacity="0.5" stroke="#a9d6c7" stroke-opacity="0.5" stroke-width="0.6"/>
<rect x="1602.98" y="1728.8" width="16.4" height="234.4" rx="8.2" fill="#a9d6c7"/>
<line x1="1730.26" y1="2042" x2="1730.26" y2="2107.7" stroke="#5e9f61" stroke-width="3.2"/>
<line x1="1730.26" y1="2151.2" x2="1730.26" y2="2212.6" stroke="#5e9f61" stroke-width="3.2"/>
<rect x="1676.67" y="2107.7" width="107.17" height="43.5" fill="#aecfb0" stroke="#5e9f61" stroke-width="3.2"/>
<line x1="1676.67" y1="2134.2" x2="1783.84" y2="2134.2" stroke="#5e9f61" stroke-width="6.3"/>
<circle cx="1730.26" cy="1901.3" r="7.9" fill="#5e9f61" fill-opacity="0.5" stroke="#5e9f61" stroke-opacity="0.5" stroke-width="0.6"/>
<circle cx="1730.26" cy="1908" r="7.9" fill="#5e9f61" fill-opacity="0.5" stroke="#5e9f61" stroke-opacity="0.5" stroke-width="0.6"/>
<rect x="1722.06" y="1907.8" width="16.4" height="142.4" rx="8.2" fill="#5e9f61"/>
<line x1="1928.71" y1="1955" x2="1928.71" y2="2064.7" stroke="#a9d6c7" stroke-width="3.2"/>
<line x1="1928.71" y1="2137.2" x2="1928.71" y2="2200" stroke="#a9d6c7" stroke-width="3.2"/>
<rect x="1875.13" y="2064.7" width="107.17" height="72.5" fill="#d4eae3" stroke="#a9d6c7" stroke-width="3.2"/>
<line x1="1875.13" y1="2109.3" x2="1982.3" y2="2109.3" stroke="#a9d6c7" stroke-width="6.3"/>
<circle cx="1928.71" cy="1266.9" r="7.9" fill="#a9d6c7" fill-opacity="0.5" stroke="#a9d6c7" stroke-opacity="0.5" stroke-width="0.6"/>
<circle cx="1928.71" cy="1285.7" r="7.9" fill="#a9d6c7" fill-opacity="0.5" stroke="#a9d6c7" stroke-opacity="0.5" stroke-width="0.6"/>
<circle cx="1928.71" cy="1295.4" r="7.9" fill="#a9d6c7" fill-opacity="0.5" stroke="#a9d6c7" stroke-opacity="0.5" stroke-width="0.6"/>
<circle cx="1928.71" cy="1314.8" r="7.9" fill="#a9d6c7" fill-opacity="0.5" stroke="#a9d6c7" stroke-opacity="0.5" stroke-width="0.6"/>
<circle cx="1928.71" cy="1314.8" r="7.9" fill="#a9d6c7" fill-opacity="0.5" stroke="#a9d6c7" stroke-opacity="0.5" stroke-width="0.6"/>
<circle cx="1928.71" cy="1324.5" r="7.9" fill="#a9d6c7" fill-opacity="0.5" stroke="#a9d6c7" stroke-opacity="0.5" stroke-width="0.6"/>
<circle cx="1928.71" cy="1337" r="7.9" fill="#a9d6c7" fill-opacity="0.5" stroke="#a9d6c7" stroke-opacity="0.5" stroke-width="0.6"/>
<circle cx="1928.71" cy="1353.1" r="7.9" fill="#a9d6c7" fill-opacity="0.5" stroke="#a9d6c7" stroke-opacity="0.5" stroke-width="0.6"/>
<circle cx="1928.71" cy="1377.2" r="7.9" fill="#a9d6c7" fill-opacity="0.5" stroke="#a9d6c7" stroke-opacity="0.5" stroke-width="0.6"/>
<circle cx="1928.71" cy="1381.4" r="7.9" fill="#a9d6c7" fill-opacity="0.5" stroke="#a9d6c7" stroke-opacity="0.5" stroke-width="0.6"/>
<circle cx="1928.71" cy="1399.4" r="7.9" fill="#a9d6c7" fill-opacity="0.5" stroke="#a9d6c7" stroke-opacity="0.5" stroke-width="0.6"/>
<circle cx="1928.71" cy="1406.3" r="7.9" fill="#a9d6c7" fill-opacity="0.5" stroke="#a9d6c7" stroke-opacity="0.5" stroke-width="0.6"/>
<circle cx="1928.71" cy="1413.2" r="7.9" fill="#a9d6c7" fill-opacity="0.5" stroke="#a9d6c7" stroke-opacity="0.5" stroke-width="0.6"/>
<circle cx="1928.71" cy="1419.6" r="7.9" fill="#a9d6c7" fill-opacity="0.5" stroke="#a9d6c7" stroke-opacity="0.5" stroke-width="0.6"/>
<circle cx="1928.71" cy="1441.8" r="7.9" fill="#a9d6c7" fill-opacity="0.5" stroke="#a9d6c7" stroke-opacity="0.5" stroke-width="0.6"/>
<circle cx="1928.71" cy="1459" r="7.9" fill="#a9d6c7" fill-opacity="0.5" stroke="#a9d6c7" stroke-opacity="0.5" stroke-width="0.6"/>
<circle cx="1928.71" cy="1461.7" r="7.9" fill="#a9d6c7" fill-opacity="0.5" stroke="#a9d6c7" stroke-opacity="0.5" stroke-width="0.6"/>
<circle cx="1928.71" cy="1472.8" r="7.9" fill="#a9d6c7" fill-opacity="0.5" stroke="#a9d6c7" stroke-opacity="0.5" stroke-width="0.6"/>
<circle cx="1928.71" cy="1481.1" r="7.9" fill="#a9d6c7" fill-opacity="0.5" stroke="#a9d6c7" stroke-opacity="0.5" stroke-width="0.6"/>
<circle cx="1928.71" cy="1488.9" r="7.9" fill="#a9d6c7" fill-opacity="0.5" stroke="#a9d6c7" stroke-opacity="0.5" stroke-width="0.6"/>
<circle cx="1928.71" cy="1503.3" r="7.9" fill="#a9d6c7" fill-opacity="0.5" stroke="#a9d6c7" stroke-opacity="0.5" stroke-width="0.6"/>
<circle cx="1928.71" cy="1514.4" r="7.9" fill="#a9d6c7" fill-opacity="0.5" stroke="#a9d6c7" stroke-opacity="0.5" stroke-width="0.6"/>
<circle cx="1928.71" cy="1520" r="7.9" fill="#a9d6c7" fill-opacity="0.5" stroke="#a9d6c7" stroke-opacity="0.5" stroke-width="0.6"/>
<circle cx="1928.71" cy="1531" r="7.9" fill="#a9d6c7" fill-opacity="0.5" stroke="#a9d6c7" stroke-opacity="0.5" stroke-width="0.6"/>
<circle cx="1928.71" cy="1539.4" r="7.9" fill="#a9d6c7" fill-opacity="0.5" stroke="#a9d6c7" stroke-opacity="0.5" stroke-width="0.6"/>
<rect x="1920.51" y="1536.8" width="16.4" height="426.4" rx="8.2" fill="#a9d6c7"/>
<line x1="2047.79" y1="2020" x2="2047.79" y2="2098.4" stroke="#5e9f61" stroke-width="3.2"/>
<line x1="2047.79" y1="2150.2" x2="2047.79" y2="2208.6" stroke="#5e9f61" stroke-width="3.2"/>
<rect x="1994.2" y="2098.4" width="107.17" height="51.8" fill="#aecfb0" stroke="#5e9f61" stroke-width="3.2"/>
<line x1="1994.2" y1="2131.5" x2="2101.37" y2="2131.5" stroke="#5e9f61" stroke-width="6.3"/>
<circle cx="2047.79" cy="1887.7" r="7.9" fill="#5e9f61" fill-opacity="0.5" stroke="#5e9f61" stroke-opacity="0.5" stroke-width="0.6"/>
<circle cx="2047.79" cy="1894.9" r="7.9" fill="#5e9f61" fill-opacity="0.5" stroke="#5e9f61" stroke-opacity="0.5" stroke-width="0.6"/>
<rect x="2039.59" y="1926.8" width="16.4" height="101.4" rx="8.2" fill="#5e9f61"/>
<line x1="2246.24" y1="2012" x2="2246.24" y2="2096.9" stroke="#a9d6c7" stroke-width="3.2"/>
<line x1="2246.24" y1="2153.2" x2="2246.24" y2="2214" stroke="#a9d6c7" stroke-width="3.2"/>
<rect x="2192.66" y="2096.9" width="107.17" height="56.3" fill="#d4eae3" stroke="#a9d6c7" stroke-width="3.2"/>
<line x1="2192.66" y1="2129.5" x2="2299.83" y2="2129.5" stroke="#a9d6c7" stroke-width="6.3"/>
<circle cx="2246.24" cy="1487.7" r="7.9" fill="#a9d6c7" fill-opacity="0.5" stroke="#a9d6c7" stroke-opacity="0.5" stroke-width="0.6"/>
<circle cx="2246.24" cy="1490.5" r="7.9" fill="#a9d6c7" fill-opacity="0.5" stroke="#a9d6c7" stroke-opacity="0.5" stroke-width="0.6"/>
<circle cx="2246.24" cy="1523.5" r="7.9" fill="#a9d6c7" fill-opacity="0.5" stroke="#a9d6c7" stroke-opacity="0.5" stroke-width="0.6"/>
<circle cx="2246.24" cy="1527.5" r="7.9" fill="#a9d6c7" fill-opacity="0.5" stroke="#a9d6c7" stroke-opacity="0.5" stroke-width="0.6"/>
<circle cx="2246.24" cy="1531.5" r="7.9" fill="#a9d6c7" fill-opacity="0.5" stroke="#a9d6c7" stroke-opacity="0.5" stroke-width="0.6"/>
<circle cx="2246.24" cy="1535.5" r="7.9" fill="#a9d6c7" fill-opacity="0.5" stroke="#a9d6c7" stroke-opacity="0.5" stroke-width="0.6"/>
<circle cx="2246.24" cy="1539.5" r="7.9" fill="#a9d6c7" fill-opacity="0.5" stroke="#a9d6c7" stroke-opacity="0.5" stroke-width="0.6"/>
<circle cx="2246.24" cy="1543.5" r="7.9" fill="#a9d6c7" fill-opacity="0.5" stroke="#a9d6c7" stroke-opacity="0.5" stroke-width="0.6"/>
<circle cx="2246.24" cy="1547.5" r="7.9" fill="#a9d6c7" fill-opacity="0.5" stroke="#a9d6c7" stroke-opacity="0.5" stroke-width="0.6"/>
<circle cx="2246.24" cy="1551.5" r="7.9" fill="#a9d6c7" fill-opacity="0.5" stroke="#a9d6c7" stroke-opacity="0.5" stroke-width="0.6"/>
<circle cx="2246.24" cy="1555.5" r="7.9" fill="#a9d6c7" fill-opacity="0.5" stroke="#a9d6c7" stroke-opacity="0.5" stroke-width="0.6"/>
<circle cx="2246.24" cy="1559.5" r="7.9" fill="#a9d6c7" fill-opacity="0.5" stroke="#a9d6c7" stroke-opacity="0.5" stroke-width="0.6"/>
<circle cx="2246.24" cy="1563.5" r="7.9" fill="#a9d6c7" fill-opacity="0.5" stroke="#a9d6c7" stroke-opacity="0.5" stroke-width="0.6"/>
<circle cx="2246.24" cy="1567.5" r="7.9" fill="#a9d6c7" fill-opacity="0.5" stroke="#a9d6c7" stroke-opacity="0.5" stroke-width="0.6"/>
<circle cx="2246.24" cy="1571.5" r="7.9" fill="#a9d6c7" fill-opacity="0.5" stroke="#a9d6c7" stroke-opacity="0.5" stroke-width="0.6"/>
<circle cx="2246.24" cy="1575.5" r="7.9" fill="#a9d6c7" fill-opacity="0.5" stroke="#a9d6c7" stroke-opacity="0.5" stroke-width="0.6"/>
<circle cx="2246.24" cy="1579.5" r="7.9" fill="#a9d6c7" fill-opacity="0.5" stroke="#a9d6c7" stroke-opacity="0.5" stroke-width="0.6"/>
<circle cx="2246.24" cy="1583.5" r="7.9" fill="#a9d6c7" fill-opacity="0.5" stroke="#a9d6c7" stroke-opacity="0.5" stroke-width="0.6"/>
<circle cx="2246.24" cy="1587.5" r="7.9" fill="#a9d6c7" fill-opacity="0.5" stroke="#a9d6c7" stroke-opacity="0.5" stroke-width="0.6"/>
<circle cx="2246.24" cy="1591.5" r="7.9" fill="#a9d6c7" fill-opacity="0.5" stroke="#a9d6c7" stroke-opacity="0.5" stroke-width="0.6"/>
<circle cx="2246.24" cy="1595.5" r="7.9" fill="#a9d6c7" fill-opacity="0.5" stroke="#a9d6c7" stroke-opacity="0.5" stroke-width="0.6"/>
<circle cx="2246.24" cy="1599.5" r="7.9" fill="#a9d6c7" fill-opacity="0.5" stroke="#a9d6c7" stroke-opacity="0.5" stroke-width="0.6"/>
<circle cx="2246.24" cy="1603.5" r="7.9" fill="#a9d6c7" fill-opacity="0.5" stroke="#a9d6c7" stroke-opacity="0.5" stroke-width="0.6"/>
<circle cx="2246.24" cy="1607.5" r="7.9" fill="#a9d6c7" fill-opacity="0.5" stroke="#a9d6c7" stroke-opacity="0.5" stroke-width="0.6"/>
<circle cx="2246.24" cy="1611.5" r="7.9" fill="#a9d6c7" fill-opacity="0.5" stroke="#a9d6c7" stroke-opacity="0.5" stroke-width="0.6"/>
<circle cx="2246.24" cy="1615.5" r="7.9" fill="#a9d6c7" fill-opacity="0.5" stroke="#a9d6c7" stroke-opacity="0.5" stroke-width="0.6"/>
<circle cx="2246.24" cy="1619.5" r="7.9" fill="#a9d6c7" fill-opacity="0.5" stroke="#a9d6c7" stroke-opacity="0.5" stroke-width="0.6"/>
<rect x="2238.04" y="1614.8" width="16.4" height="405.4" rx="8.2" fill="#a9d6c7"/>
<line x1="2365.32" y1="2067" x2="2365.32" y2="2121.2" stroke="#5e9f61" stroke-width="3.2"/>
<line x1="2365.32" y1="2155.6" x2="2365.32" y2="2197.3" stroke="#5e9f61" stroke-width="3.2"/>
<rect x="2311.73" y="2121.2" width="107.17" height="34.4" fill="#aecfb0" stroke="#5e9f61" stroke-width="3.2"/>
<line x1="2311.73" y1="2141.6" x2="2418.9" y2="2141.6" stroke="#5e9f61" stroke-width="6.3"/>
<circle cx="2365.32" cy="1939.5" r="7.9" fill="#5e9f61" fill-opacity="0.5" stroke="#5e9f61" stroke-opacity="0.5" stroke-width="0.6"/>
<circle cx="2365.32" cy="1946" r="7.9" fill="#5e9f61" fill-opacity="0.5" stroke="#5e9f61" stroke-opacity="0.5" stroke-width="0.6"/>
<rect x="2357.12" y="1945.5" width="16.4" height="129.7" rx="8.2" fill="#5e9f61"/>
<rect x="1480.2" y="1220.4" width="1016.1" height="1040.4" fill="none" stroke="#8a8a8a" stroke-width="1.6"/>
<line x1="1474.8" y1="2205.9" x2="1480.2" y2="2205.9" stroke="#4d4d4d" stroke-width="2.0"/>
<text transform="translate(1470.9,2226.67) scale(1,1.026)" font-size="58" fill="#4d4d4d" text-anchor="end">10</text>
<line x1="1474.8" y1="1982.25" x2="1480.2" y2="1982.25" stroke="#4d4d4d" stroke-width="2.0"/>
<text transform="translate(1470.9,2003.02) scale(1,1.026)" font-size="58" fill="#4d4d4d" text-anchor="end">15</text>
<line x1="1474.8" y1="1758.6" x2="1480.2" y2="1758.6" stroke="#4d4d4d" stroke-width="2.0"/>
<text transform="translate(1470.9,1779.37) scale(1,1.026)" font-size="58" fill="#4d4d4d" text-anchor="end">20</text>
<line x1="1474.8" y1="1534.95" x2="1480.2" y2="1534.95" stroke="#4d4d4d" stroke-width="2.0"/>
<text transform="translate(1470.9,1555.72) scale(1,1.026)" font-size="58" fill="#4d4d4d" text-anchor="end">25</text>
<line x1="1474.8" y1="1311.3" x2="1480.2" y2="1311.3" stroke="#4d4d4d" stroke-width="2.0"/>
<text transform="translate(1470.9,1332.07) scale(1,1.026)" font-size="58" fill="#4d4d4d" text-anchor="end">30</text>
<line x1="1670.72" y1="2260.8" x2="1670.72" y2="2266.2" stroke="#4d4d4d" stroke-width="2.0"/>
<text transform="translate(1670.72,2311) scale(1,1.026)" font-size="58" fill="#4d4d4d" text-anchor="middle">2017</text>
<line x1="1988.25" y1="2260.8" x2="1988.25" y2="2266.2" stroke="#4d4d4d" stroke-width="2.0"/>
<text transform="translate(1988.25,2311) scale(1,1.026)" font-size="58" fill="#4d4d4d" text-anchor="middle">2018</text>
<line x1="2305.78" y1="2260.8" x2="2305.78" y2="2266.2" stroke="#4d4d4d" stroke-width="2.0"/>
<text transform="translate(2305.78,2311) scale(1,1.026)" font-size="58" fill="#4d4d4d" text-anchor="middle">2019</text>
<text x="16" y="30.4" font-size="43" fill="#000" font-weight="bold">A</text>
<text x="1334.6" y="30.4" font-size="43" fill="#000" font-weight="bold">B</text>
<text x="15" y="1236.95" font-size="43" fill="#000" font-weight="bold">C</text>
<text x="1332.4" y="1236.95" font-size="43" fill="#000" font-weight="bold">D</text>
<text transform="translate(51.6,598.3) rotate(-90)" font-size="66" fill="#000" text-anchor="middle">Disease prevalence</text>
<text transform="translate(123.6,597.65) rotate(-90)" font-size="66" fill="#000" text-anchor="middle">(% infected leaves)</text>
<text transform="translate(1373.3,599.1) rotate(-90)" font-size="66" fill="#000" text-anchor="middle">Disease severity</text>
<text transform="translate(1445.4,597.3) rotate(-90)" font-size="66" fill="#000" text-anchor="middle">(% infected leaf area)</text>
<text transform="translate(85.9,2176) rotate(-90)" font-size="65" fill="#000">Eelgrass density</text>
<text transform="translate(85.1,1685.5) rotate(-90)" font-size="79.5" fill="#000">(</text>
<text transform="translate(85.9,1656.15) rotate(-90)" font-size="65" fill="#000">shoots</text>
<line x1="29.2" y1="1438.6" x2="96.4" y2="1456.4" stroke="#000" stroke-width="1.4"/>
<text transform="translate(85.9,1430.9) rotate(-90)" font-size="65" fill="#000">m</text>
<text transform="translate(54.4,1377.9) rotate(-90)" font-size="47.5" fill="#000">2</text>
<text transform="translate(85.2,1348.35) rotate(-90)" font-size="79.5" fill="#000">)</text>
<text transform="translate(1373.7,2098.5) rotate(-90)" font-size="65.7" fill="#000"><tspan font-style="italic">In situ</tspan> temperatures (°C)</text>
<text x="700" y="2373.7" font-size="66" fill="#000" text-anchor="middle">Year</text>
<text x="1988.25" y="2373.7" font-size="66" fill="#000" text-anchor="middle">Year</text>
<text x="2237" y="99.5" font-size="43" fill="#000">TidalRegime</text>
<line x1="2251.3" y1="118.2" x2="2251.3" y2="123.6" stroke="#a9d6c7" stroke-width="2.8"/>
<line x1="2251.3" y1="142" x2="2251.3" y2="147.6" stroke="#a9d6c7" stroke-width="2.8"/>
<rect x="2240.6" y="123.6" width="21.4" height="18.4" fill="#d4eae3" stroke="#a9d6c7" stroke-width="3.6"/>
<line x1="2240.6" y1="132.7" x2="2262" y2="132.7" stroke="#a9d6c7" stroke-width="4"/>
<text x="2273.9" y="147.3" font-size="41.5" fill="#000">intertidal</text>
<line x1="2251.3" y1="155.8" x2="2251.3" y2="161.4" stroke="#5e9f61" stroke-width="2.8"/>
<line x1="2251.3" y1="180.2" x2="2251.3" y2="186.1" stroke="#5e9f61" stroke-width="2.8"/>
<rect x="2240.6" y="161.4" width="21.4" height="18.8" fill="#aecfb0" stroke="#5e9f61" stroke-width="3.6"/>
<line x1="2240.6" y1="171" x2="2262" y2="171" stroke="#5e9f61" stroke-width="4"/>
<text x="2273.9" y="185.7" font-size="41.5" fill="#000">subtidal</text>
</svg>
</body></html>
